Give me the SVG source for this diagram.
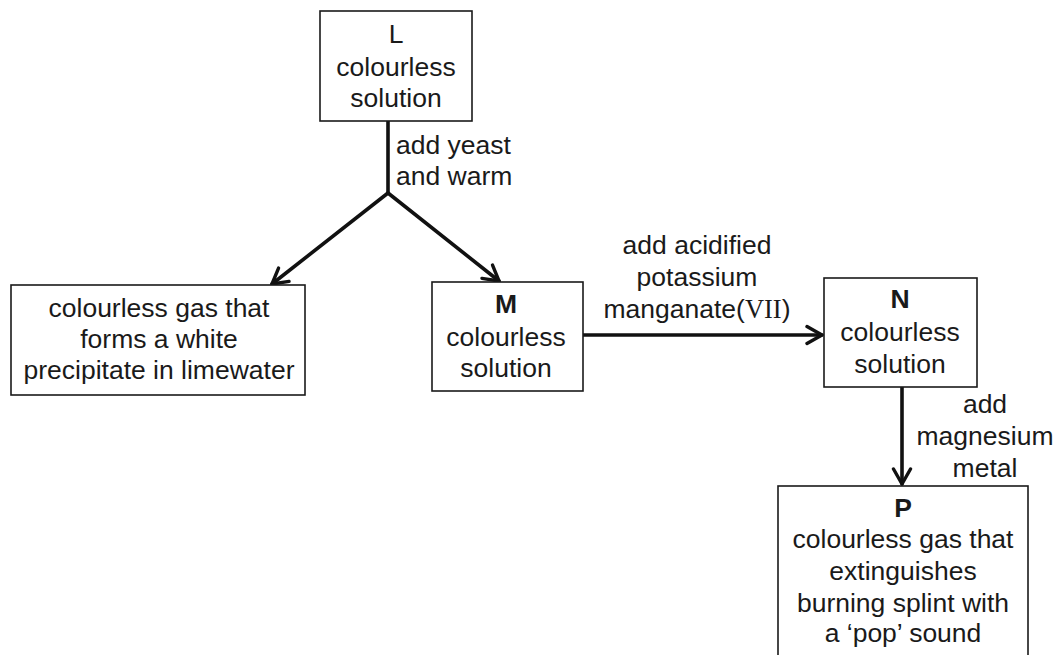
<svg xmlns="http://www.w3.org/2000/svg" width="1058" height="655" viewBox="0 0 1058 655">
<defs>
<style>
.box{fill:#fff;stroke:#1a1a1a;stroke-width:1.6}
.t{font-family:"Liberation Sans",Arial,sans-serif;font-size:26.5px;fill:#1a1a1a;text-anchor:middle}
.lab{font-family:"Liberation Sans",Arial,sans-serif;font-size:26.5px;fill:#1a1a1a}
.b{font-weight:bold}
.c{fill:none;stroke:#111;stroke-width:3.6;stroke-linecap:round;stroke-linejoin:round}
.rn{font-family:"Liberation Serif","Times New Roman",serif}
</style>
<marker id="arr" markerWidth="22" markerHeight="22" refX="17" refY="11" orient="auto" markerUnits="userSpaceOnUse">
<path d="M2,2.5 L17,11 L2,19.5" fill="none" stroke="#111" stroke-width="3.4" stroke-linecap="round" stroke-linejoin="round"/>
</marker>
</defs>
<rect width="1058" height="655" fill="#fff"/>
<g id="connectors">
<path class="c" d="M388,121 L388,193"/>
<path class="c" d="M388,193 L272,284" marker-end="url(#arr)"/>
<path class="c" d="M388,193 L499,281" marker-end="url(#arr)"/>
<path class="c" d="M583,335 L822,335" marker-end="url(#arr)"/>
<path class="c" d="M902,387 L902,484" marker-end="url(#arr)"/>
<text class="lab" x="396" y="154">add yeast</text>
<text class="lab" x="396" y="185">and warm</text>
<text class="t" x="697" y="254">add acidified</text>
<text class="t" x="697" y="286">potassium</text>
<text class="t" x="697" y="318">manganate(<tspan class="rn">VII</tspan>)</text>
<text class="t" x="985" y="413">add</text>
<text class="t" x="985" y="445">magnesium</text>
<text class="t" x="985" y="477">metal</text>
</g>
<g id="node-L">
<rect class="box" x="320" y="11" width="152" height="110"/>
<text class="t" x="396" y="43">L</text>
<text class="t" x="396" y="76">colourless</text>
<text class="t" x="396" y="107">solution</text>
</g>
<g id="node-gas">
<rect class="box" x="11" y="285" width="294" height="110"/>
<text class="t" x="159" y="317">colourless gas that</text>
<text class="t" x="159" y="348">forms a white</text>
<text class="t" x="159" y="379">precipitate in limewater</text>
</g>
<g id="node-M">
<rect class="box" x="432" y="282" width="151" height="109"/>
<text class="t b" x="506" y="313">M</text>
<text class="t" x="506" y="346">colourless</text>
<text class="t" x="506" y="377">solution</text>
</g>
<g id="node-N">
<rect class="box" x="824" y="278" width="153" height="109"/>
<text class="t b" x="900" y="308">N</text>
<text class="t" x="900" y="341">colourless</text>
<text class="t" x="900" y="373">solution</text>
</g>
<g id="node-P">
<rect class="box" x="778" y="486" width="250" height="180"/>
<text class="t b" x="903" y="517">P</text>
<text class="t" x="903" y="548">colourless gas that</text>
<text class="t" x="903" y="580">extinguishes</text>
<text class="t" x="903" y="612">burning splint with</text>
<text class="t" x="903" y="642">a ‘pop’ sound</text>
</g>
</svg>
